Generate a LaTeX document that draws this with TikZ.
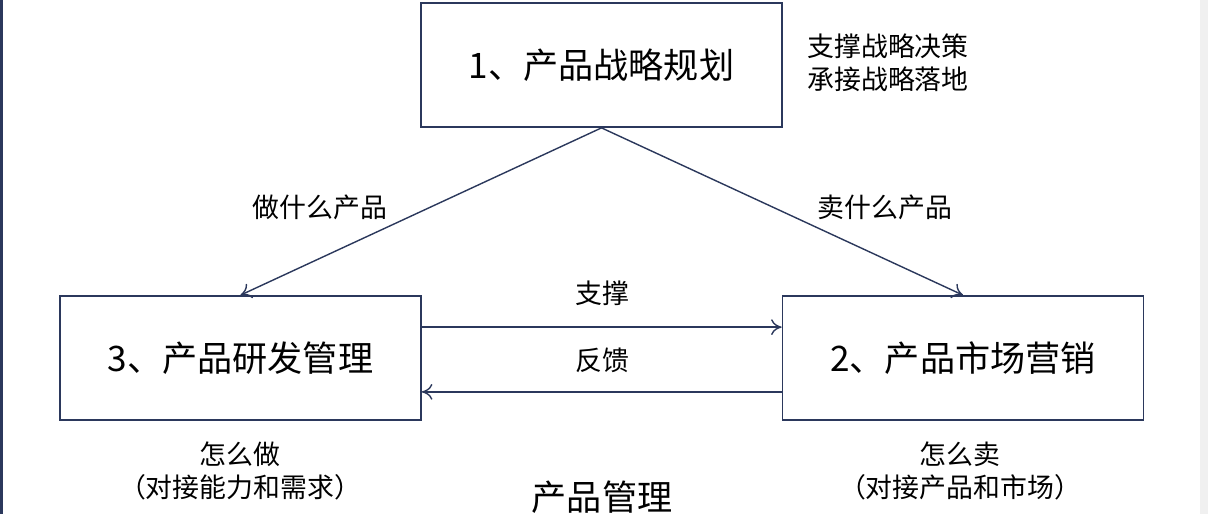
\documentclass[tikz,border=0pt]{standalone}
\usepackage{fontspec}
\setmainfont{Noto Sans CJK SC}
\usetikzlibrary{arrows.meta}
\definecolor{LineClr}{rgb}{0.17,0.22,0.36}
\tikzset{
  box/.style={draw=LineClr,line width=1pt,minimum width=7.22cm,minimum height=2.48cm,font=\fontsize{20}{22}\selectfont},
  note/.style={font=\fontsize{15.3}{18.5}\selectfont,align=center},
  link/.style={draw=LineClr,line width=0.8pt,-{To[length=6pt,width=9pt]}}
}
\begin{document}
\begin{tikzpicture}[x=0.02cm,y=-0.02cm]
\useasboundingbox (0,0) rectangle (1208,514);
\draw[LineClr,line width=2pt] (1,0) -- (1,514);
\fill[black!6] (1200,0) rectangle (1208,514);

\node[box] (plan) at (601.5,65) {1、产品战略规划};
\node[box] (dev) at (240.5,358) {3、产品研发管理};
\node[box] (mkt) at (963,358) {2、产品市场营销};

\draw[link] (plan.south) -- (dev.north);
\draw[link] (plan.south) -- (mkt.north);
\draw[link] ([yshift=-0.64cm]dev.north east) -- ([yshift=-0.64cm]mkt.north west);
\draw[link] ([yshift=0.58cm]mkt.south west) -- ([yshift=0.58cm]dev.south east);

\node[note] (what) at (320,207) {做什么产品};
\node[note] (sell) at (885,207) {卖什么产品};
\node[note] (sup) at (602,293) {支撑};
\node[note] (fb) at (602,360) {反馈};
\node[note,align=left] (goal) at (888,63) {支撑战略决策\\承接战略落地};
\node[note] (how) at (240,471) {怎么做\\（对接能力和需求）};
\node[note] (hows) at (960,471) {怎么卖\\（对接产品和市场）};
\node[font=\fontsize{20}{22}\selectfont] (title) at (602,497) {产品管理};
\end{tikzpicture}
\end{document}
